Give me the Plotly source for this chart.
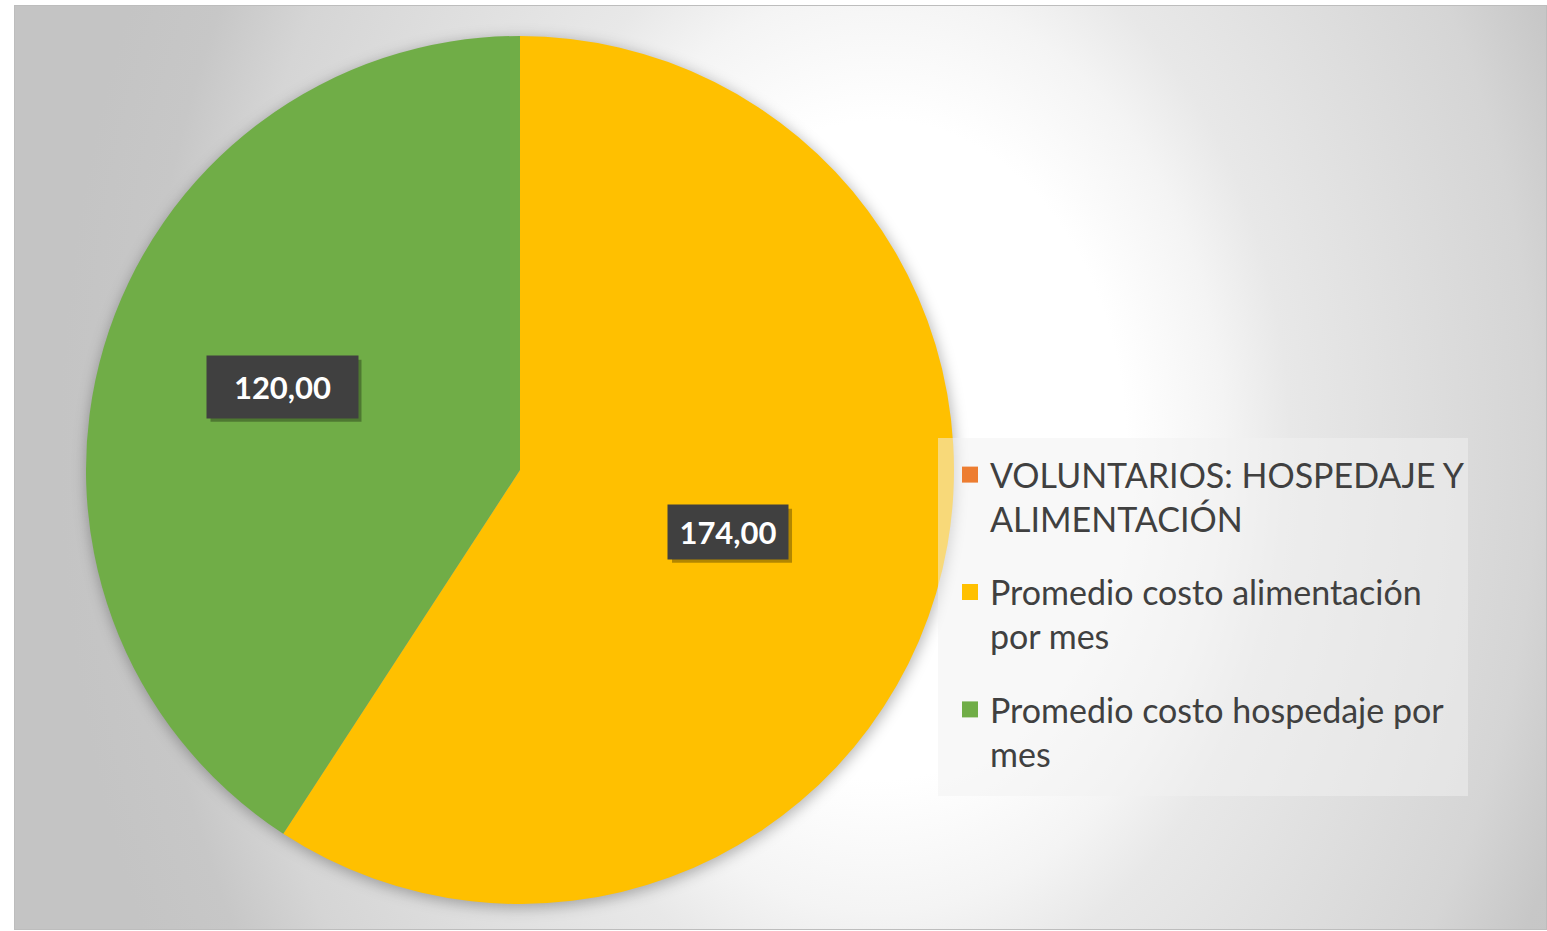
import math
import base64
import plotly.graph_objects as go

# ---------------- data ----------------
categories = [
    "VOLUNTARIOS: HOSPEDAJE Y<br>ALIMENTACIÓN",
    "Promedio costo alimentación<br>por mes",
    "Promedio costo hospedaje por<br>mes",
]
values = [0, 174, 120]
value_labels = ["0,00", "174,00", "120,00"]
colors = ["#ED7D31", "#FFC000", "#70AD47"]

# ---------------- layout / style (pixels) ----------------
W, H = 1547, 931
pie_cx, pie_cy, pie_r = 520, 470, 434           # centre / radius in page pixels
label_frac = [0.0, 0.50, 0.56]                   # radial position of value labels
label_nudge = [(0, 0), (0, 0), (-5, -14)]        # small pixel nudges (x right, y down)
label_box = [(120, 54), (120, 54), (151, 62)]    # label box sizes (w, h)

def px(x):
    return x / W

def py(y):
    return 1 - y / H

# background: Excel-like radial gradient + soft pie shadow as inline SVG
bx0, by0, bx1, by1 = 14, 5, 1547, 930
bw, bh = bx1 - bx0, by1 - by0
gcx, gcy = 880 - bx0, 450 - by0
svg = f"""<svg xmlns='http://www.w3.org/2000/svg' width='{bw}' height='{bh}' viewBox='0 0 {bw} {bh}' preserveAspectRatio='none'>
<defs>
<radialGradient id='g' gradientUnits='userSpaceOnUse' cx='{gcx}' cy='{gcy}' r='820'
 gradientTransform='translate({gcx} {gcy}) scale(1 1.34) translate({-gcx} {-gcy})'>
<stop offset='0' stop-color='#FFFFFF'/>
<stop offset='0.30' stop-color='#FFFFFF'/>
<stop offset='0.42' stop-color='#F4F4F4'/>
<stop offset='0.50' stop-color='#E8E8E8'/>
<stop offset='0.80' stop-color='#D5D5D5'/>
<stop offset='0.90' stop-color='#C7C7C7'/>
<stop offset='1' stop-color='#C4C4C4'/>
</radialGradient>
<filter id='blur' x='-20%' y='-20%' width='140%' height='140%'><feGaussianBlur stdDeviation='7'/></filter>
</defs>
<rect x='0.5' y='0.5' width='{bw-1}' height='{bh-1}' fill='url(#g)' stroke='#BDBDBD' stroke-width='1'/>
<circle cx='{pie_cx-bx0+1}' cy='{pie_cy-by0+3}' r='{pie_r+1}' fill='#000000' fill-opacity='0.28' filter='url(#blur)'/>
</svg>"""
svg_uri = "data:image/svg+xml;base64," + base64.b64encode(svg.encode("utf-8")).decode("ascii")

fig = go.Figure()
fig.add_trace(go.Pie(
    labels=categories,
    values=values,
    marker=dict(colors=colors, line=dict(width=0)),
    sort=False,
    direction="clockwise",
    rotation=0,
    textinfo="none",
    hoverinfo="label+value",
    domain=dict(x=[px(pie_cx - pie_r), px(pie_cx + pie_r)],
                y=[py(pie_cy + pie_r), py(pie_cy - pie_r)]),
    showlegend=False,
))

# legend entries (one group per category so they can be spaced apart)
for i, (cat, col) in enumerate(zip(categories, colors)):
    fig.add_trace(go.Scatter(
        x=[None], y=[None], mode="markers", name=cat,
        marker=dict(symbol="square", size=20, color=col),
        legendgroup=f"g{i}", showlegend=True, hoverinfo="skip",
    ))

# value labels computed from slice geometry
total = sum(values)
annotations = []
shapes = [dict(type="rect", xref="paper", yref="paper",
               x0=px(938), x1=px(1468), y0=py(796), y1=py(438),
               fillcolor="rgba(242,242,242,0.5)", line=dict(width=0), layer="above")]
cum = 0
for v, lab, f, (nx, ny), (bwid, bhei) in zip(values, value_labels, label_frac, label_nudge, label_box):
    mid = 360 * (cum + v / 2) / total
    cum += v
    if v == 0:
        continue
    dx = f * pie_r * math.sin(math.radians(mid))
    dy = f * pie_r * math.cos(math.radians(mid))
    x = px(pie_cx + dx + nx)
    y = py(pie_cy - dy + ny)
    # soft shadow behind the label box
    shapes.append(dict(type="rect", xref="paper", yref="paper",
                       xsizemode="pixel", ysizemode="pixel", xanchor=x, yanchor=y,
                       x0=-bwid / 2 + 4, x1=bwid / 2 + 4, y0=-bhei / 2 - 4, y1=bhei / 2 - 4,
                       fillcolor="rgba(0,0,0,0.3)", line=dict(width=0), layer="above"))
    annotations.append(dict(
        x=x, y=y, xref="paper", yref="paper", text=f"<b>{lab}</b>",
        showarrow=False, xanchor="center", yanchor="middle",
        width=bwid, height=bhei, borderpad=0, align="center", valign="middle",
        font=dict(family="Lato", size=31, color="#FFFFFF"),
        bgcolor="#404040",
    ))

fig.update_layout(
    width=W, height=H,
    margin=dict(l=0, r=0, t=0, b=0),
    paper_bgcolor="#FFFFFF",
    plot_bgcolor="rgba(0,0,0,0)",
    font=dict(family="Lato", color="#404040"),
    xaxis=dict(visible=False),
    yaxis=dict(visible=False),
    images=[dict(source=svg_uri, xref="paper", yref="paper",
                 x=px(bx0), y=py(by0), sizex=bw / W, sizey=bh / H,
                 xanchor="left", yanchor="top", sizing="stretch", layer="below")],
    shapes=shapes,
    legend=dict(
        x=px(950), y=py(446), xanchor="left", yanchor="top",
        bgcolor="rgba(0,0,0,0)", borderwidth=0,
        font=dict(family="Lato", size=34, color="#404040"),
        traceorder="grouped", tracegroupgap=26, valign="top",
    ),
    annotations=annotations,
)

fig.write_html("out.html", config={"displayModeBar": False},
               post_script="document.body.style.margin='0';")
